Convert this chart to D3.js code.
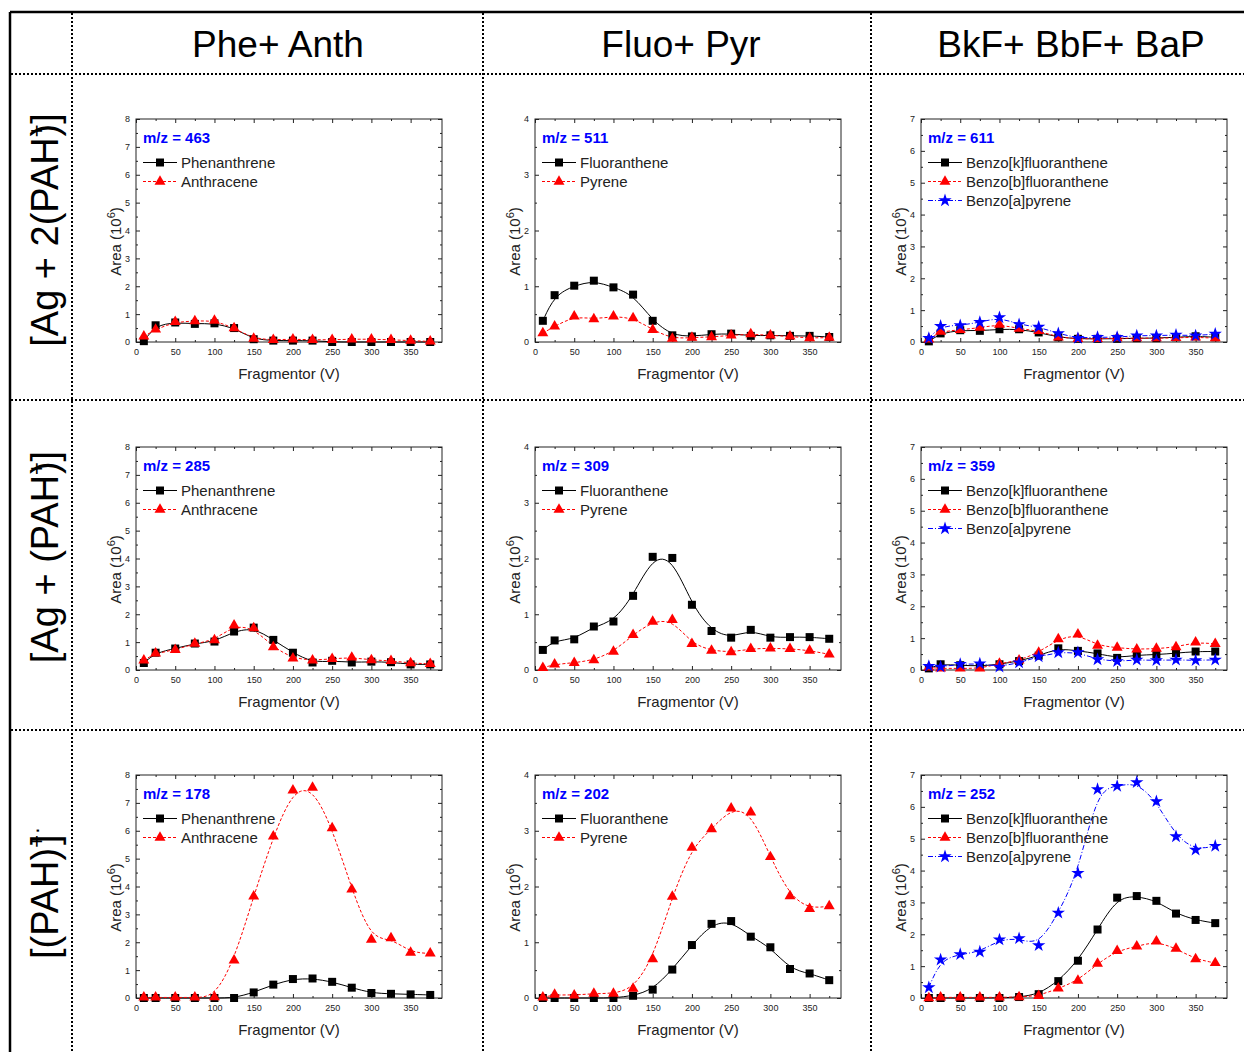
<!DOCTYPE html>
<html><head><meta charset="utf-8">
<script src="https://cdn.jsdelivr.net/npm/d3@7"></script>
<style>body{margin:0;background:#fff}svg{display:block}text{font-family:"Liberation Sans",Arial,sans-serif}</style>
</head><body>
<script>
const xVals = [10,25,50,75,100,125,150,175,200,225,250,275,300,325,350,375];
const colTitles = ["Phe+ Anth","Fluo+ Pyr","BkF+ BbF+ BaP"];
const mzLabels = [[463,511,611],[285,309,359],[178,202,252]];
const yMaxes = [8,4,7];
const legendNames = [["Phenanthrene","Anthracene"],["Fluoranthene","Pyrene"],["Benzo[k]fluoranthene","Benzo[b]fluoranthene","Benzo[a]pyrene"]];
const xMajorTicks = [0,50,100,150,200,250,300,350];

// Row 1: [Ag + 2(PAH)]+
const phe463 = [0.03,0.6,0.7,0.65,0.67,0.5,0.1,0.05,0.05,0.05,0,0,0,0,0,0];
const anth463 = [0.2,0.45,0.72,0.75,0.77,0.5,0.12,0.08,0.1,0.08,0.08,0.1,0.1,0.08,0.05,0.02];
const flu511 = [0.38,0.84,1.01,1.1,0.98,0.85,0.38,0.12,0.1,0.14,0.15,0.11,0.12,0.11,0.11,0.09];
const pyr511 = [0.16,0.28,0.46,0.41,0.46,0.43,0.22,0.06,0.08,0.09,0.12,0.14,0.12,0.1,0.07,0.08];
const bkf611 = [0.02,0.27,0.37,0.35,0.4,0.4,0.3,0.15,0.1,0.1,0.1,0.12,0.12,0.15,0.18,0.15];
const bbf611 = [0.08,0.33,0.38,0.45,0.55,0.42,0.35,0.15,0.1,0.1,0.12,0.12,0.12,0.13,0.15,0.12];
const bap611 = [0.12,0.5,0.52,0.62,0.77,0.55,0.47,0.27,0.12,0.15,0.15,0.2,0.2,0.22,0.2,0.25];
// Row 2: [Ag + (PAH)]+
const phe285 = [0.25,0.62,0.77,0.95,1.02,1.38,1.52,1.08,0.62,0.27,0.33,0.27,0.3,0.28,0.2,0.2];
const anth285 = [0.35,0.6,0.72,0.95,1.07,1.6,1.5,0.82,0.42,0.35,0.4,0.45,0.36,0.33,0.25,0.22];
const flu309 = [0.36,0.53,0.55,0.78,0.87,1.33,2.03,2.01,1.17,0.7,0.58,0.72,0.58,0.59,0.59,0.56];
const pyr309 = [0.04,0.1,0.13,0.18,0.33,0.63,0.87,0.9,0.47,0.35,0.32,0.38,0.39,0.38,0.35,0.28];
const bkf359 = [0.05,0.18,0.15,0.12,0.18,0.28,0.45,0.68,0.6,0.52,0.38,0.47,0.48,0.53,0.58,0.58];
const bbf359 = [0.08,0.05,0.05,0.05,0.2,0.3,0.55,0.97,1.12,0.77,0.7,0.65,0.67,0.72,0.87,0.82];
const bap359 = [0.12,0.1,0.18,0.2,0.1,0.23,0.42,0.55,0.55,0.33,0.27,0.32,0.3,0.32,0.3,0.32];
// Row 3: [(PAH)]+.
const phe178 = [0,0,0,0,0,0,0.2,0.48,0.68,0.7,0.58,0.37,0.18,0.15,0.13,0.11];
const anth178 = [0.02,0.02,0.02,0.02,0.03,1.35,3.65,5.8,7.45,7.55,6.1,3.9,2.1,2.15,1.63,1.6];
const flu202 = [0,0,0,0,0,0.04,0.15,0.51,0.95,1.33,1.38,1.1,0.91,0.52,0.44,0.32];
const pyr202 = [0.01,0.06,0.05,0.08,0.08,0.17,0.7,1.82,2.7,3.03,3.4,3.33,2.53,1.83,1.6,1.65];
const bkf252 = [0,0,0,0,0,0.03,0.12,0.53,1.17,2.15,3.15,3.2,3.05,2.65,2.45,2.35];
const bbf252 = [0,0.02,0.02,0.02,0.02,0.03,0.07,0.3,0.55,1.08,1.48,1.62,1.78,1.55,1.22,1.1];
const bap252 = [0.33,1.2,1.37,1.45,1.83,1.87,1.65,2.67,3.92,6.55,6.65,6.77,6.17,5.07,4.65,4.77];

const panelSeries = [
  [[phe463,anth463],[flu511,pyr511],[bkf611,bbf611,bap611]],
  [[phe285,anth285],[flu309,pyr309],[bkf359,bbf359,bap359]],
  [[phe178,anth178],[flu202,pyr202],[bkf252,bbf252,bap252]]
];

const styles = [
  {color:"#000", dash:null, sym:d3.symbolSquare, size:64},
  {color:"#ff0000", dash:"3,2", sym:d3.symbolTriangle, size:52},
  {color:"#0000ff", dash:"5,2,1,2", sym:d3.symbolStar, size:55}
];

const W = 1244, H = 1052;
const svg = d3.select("body").append("svg").attr("width", W).attr("height", H);

// Frame and grid
const colLines = [72, 483, 871];
const rowLines = [74, 400, 730];
svg.append("line").attr("x1",10).attr("x2",W).attr("y1",12).attr("y2",12).attr("stroke","#000").attr("stroke-width",2.5);
svg.append("line").attr("x1",10).attr("x2",10).attr("y1",12).attr("y2",H).attr("stroke","#000").attr("stroke-width",2.5);
colLines.forEach(xp => svg.append("line").attr("x1",xp).attr("x2",xp).attr("y1",13).attr("y2",H)
  .attr("stroke","#000").attr("stroke-width",2).attr("stroke-dasharray","2,2"));
rowLines.forEach(yp => svg.append("line").attr("x1",11).attr("x2",W).attr("y1",yp).attr("y2",yp)
  .attr("stroke","#000").attr("stroke-width",2).attr("stroke-dasharray","2,2"));

// Column titles
const titleX = [278, 681, 1071];
colTitles.forEach((t,i) => svg.append("text").attr("x",titleX[i]).attr("y",57).attr("text-anchor","middle")
  .attr("font-size",37).attr("fill","#000").text(t));

// Row labels
function rowLabel(cy, build){
  const t = svg.append("text").attr("transform",`translate(58,${cy}) rotate(-90)`).attr("text-anchor","middle")
    .attr("font-size",38).attr("fill","#000");
  build(t);
}
rowLabel(230, t => {
  t.append("tspan").text("[Ag + 2(PAH");
  t.append("tspan").attr("font-size",22).attr("dy",-14).text("+");
  t.append("tspan").attr("dx",-12).attr("dy",14).text(")]");
});
rowLabel(557, t => {
  t.append("tspan").text("[Ag + (PAH");
  t.append("tspan").attr("font-size",22).attr("dy",-14).text("+");
  t.append("tspan").attr("dx",-12).attr("dy",14).text(")]");
});
rowLabel(893, t => {
  t.append("tspan").text("[(PAH)");
  t.append("tspan").attr("font-size",22).attr("dy",-14).text("+");
  t.append("tspan").attr("dx",-10).attr("dy",14).text("]");
  t.append("tspan").attr("font-size",22).attr("dy",-14).text("·");
});

const colLeft = [136, 535, 921];
const rowTop = [119, 447, 775];
const PW = 306, PH = 223;

for (let r = 0; r < 3; r++) {
  for (let c = 0; c < 3; c++) {
    const L = colLeft[c], T = rowTop[r];
    const x = d3.scaleLinear().domain([0,390]).range([L, L+PW]);
    const yMax = yMaxes[c];
    const y = d3.scaleLinear().domain([0,yMax]).range([T+PH, T]);
    const g = svg.append("g");
    const yMajor = d3.range(0, yMax+0.001, 1);
    const yMinor = d3.range(0.5, yMax, 1);
    const xMinor = d3.range(25, 390, 50);

    const styleAxis = sel => {
      sel.selectAll(".domain").remove();
      sel.selectAll("line").attr("stroke","#222");
      sel.selectAll("text").attr("font-size",9).attr("fill","#222").attr("font-family","Liberation Sans, Arial, sans-serif");
    };
    g.append("g").attr("transform",`translate(0,${T+PH})`)
      .call(d3.axisBottom(x).tickValues(xMajorTicks).tickSize(-4).tickPadding(7)).call(styleAxis);
    g.append("g").attr("transform",`translate(0,${T+PH})`)
      .call(d3.axisBottom(x).tickValues(xMinor).tickSize(-2).tickFormat("")).call(styleAxis);
    g.append("g").attr("transform",`translate(0,${T})`)
      .call(d3.axisTop(x).tickValues(xMajorTicks).tickSize(-4).tickFormat("")).call(styleAxis);
    g.append("g").attr("transform",`translate(0,${T})`)
      .call(d3.axisTop(x).tickValues(xMinor).tickSize(-2).tickFormat("")).call(styleAxis);
    g.append("g").attr("transform",`translate(${L},0)`)
      .call(d3.axisLeft(y).tickValues(yMajor).tickSize(-4).tickPadding(6).tickFormat(d3.format("d"))).call(styleAxis);
    g.append("g").attr("transform",`translate(${L},0)`)
      .call(d3.axisLeft(y).tickValues(yMinor).tickSize(-2).tickFormat("")).call(styleAxis);
    g.append("g").attr("transform",`translate(${L+PW},0)`)
      .call(d3.axisRight(y).tickValues(yMajor).tickSize(-4).tickFormat("")).call(styleAxis);
    g.append("g").attr("transform",`translate(${L+PW},0)`)
      .call(d3.axisRight(y).tickValues(yMinor).tickSize(-2).tickFormat("")).call(styleAxis);
    g.append("rect").attr("x",L).attr("y",T).attr("width",PW).attr("height",PH)
      .attr("fill","none").attr("stroke","#222").attr("stroke-width",1);

    // axis titles
    g.append("text").attr("x",L+PW/2).attr("y",T+PH+37).attr("text-anchor","middle")
      .attr("font-size",15).attr("fill","#222").text("Fragmentor (V)");
    const yt = g.append("text").attr("transform",`translate(${L-15},${T+PH/2+11}) rotate(-90)`)
      .attr("text-anchor","middle").attr("font-size",15).attr("fill","#222");
    yt.append("tspan").text("Area (10");
    yt.append("tspan").attr("font-size",11).attr("dy",-6).text("6");
    yt.append("tspan").attr("dy",6).text(")");

    // series
    const series = panelSeries[r][c];
    const line = d3.line().x((d,i)=>x(xVals[i])).y(d=>y(d)).curve(d3.curveBasis);
    series.forEach((vals, si) => {
      const st = styles[si];
      g.append("path").datum(vals).attr("d", line).attr("fill","none").attr("stroke",st.color)
        .attr("stroke-width",1).attr("stroke-dasharray",st.dash);
    });
    series.forEach((vals, si) => {
      const st = styles[si];
      g.selectAll(null).data(vals).enter().append("path")
        .attr("transform",(d,i)=>`translate(${x(xVals[i])},${y(d)})`)
        .attr("d", d3.symbol().type(st.sym).size(st.size)).attr("fill",st.color);
    });

    // m/z label
    g.append("text").attr("x",L+7).attr("y",T+24).attr("font-size",15).attr("font-weight","bold")
      .attr("fill","#0000ff").text("m/z = " + mzLabels[r][c]);

    // legend
    legendNames[c].forEach((name, si) => {
      const st = styles[si];
      const ly = T + 43.5 + 19*si;
      g.append("line").attr("x1",L+7).attr("x2",L+41).attr("y1",ly).attr("y2",ly)
        .attr("stroke",st.color).attr("stroke-width",1).attr("stroke-dasharray",st.dash);
      g.append("path").attr("transform",`translate(${L+24},${ly})`)
        .attr("d", d3.symbol().type(st.sym).size(st.size)).attr("fill",st.color);
      g.append("text").attr("x",L+45).attr("y",ly).attr("dy","0.35em").attr("font-size",15)
        .attr("fill","#222").text(name);
    });
  }
}
</script>
</body></html>
